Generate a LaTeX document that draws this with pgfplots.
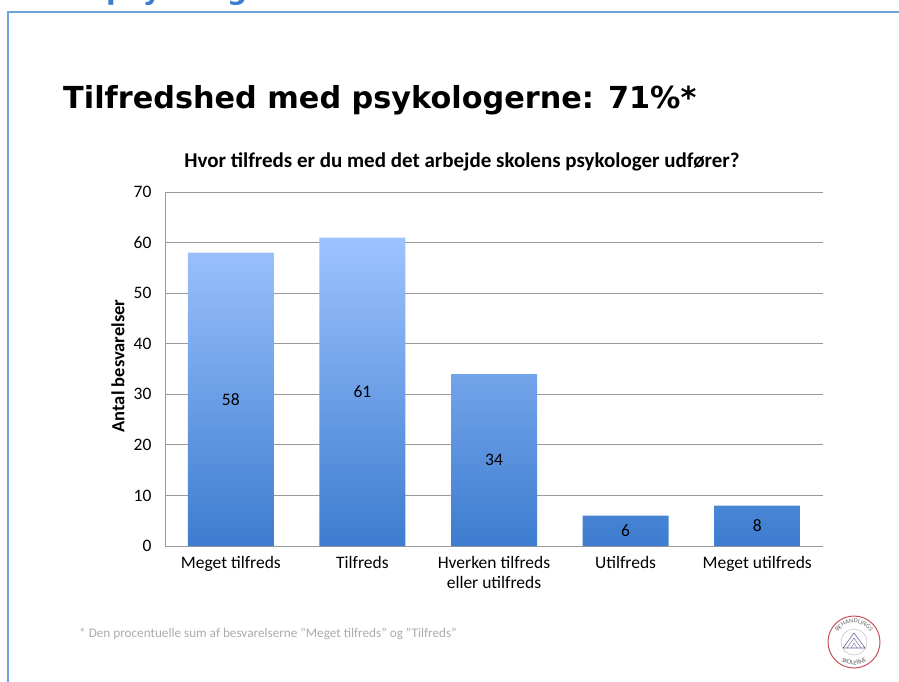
\documentclass[border=0pt]{standalone}
\usepackage{pgfplots}
\pgfplotsset{compat=1.18}
\usepackage{fontspec}
\setmainfont{Carlito}
\newfontfamily\verd{DejaVu Sans}
\usetikzlibrary{decorations.text}
\definecolor{frameblue}{HTML}{6FA3E0}
\definecolor{titleblue}{HTML}{3C7DD0}
\definecolor{bartop}{HTML}{9DC3FF}
\definecolor{barbot}{HTML}{3D7CCF}
\definecolor{gridgray}{HTML}{9A9A9A}
\definecolor{footgray}{HTML}{ABABAB}
\definecolor{logored}{HTML}{C9505C}
\begin{document}
\begin{tikzpicture}[x=1pt,y=1pt]
\useasboundingbox (0,0) rectangle (899,-682);
% cut-off slide heading
\node[anchor=base west, inner sep=0, text=titleblue, font=\verd\bfseries\fontsize{28}{30}\selectfont] at (106,0.8) {psykologerne};
% slide frame
\draw[frameblue, line width=2pt] (8,-690) -- (8,-12) -- (905,-12);
% slide title
\node[anchor=base west, inner sep=0, font=\verd\bfseries\fontsize{30.3}{34}\selectfont] at (63,-109) {Tilfredshed med psykologerne: 71\%*};
% chart title
\node[anchor=base, inner sep=0, font=\bfseries\fontsize{21}{24}\selectfont] at (462,-167) {Hvor tilfreds er du med det arbejde skolens psykologer udfører?};
% y label
\node[rotate=90, inner sep=0, font=\bfseries\fontsize{18.5}{22}\selectfont] at (118,-366) {Antal besvarelser};
\begin{axis}[
  at={(165pt,-546pt)}, anchor=south west,
  scale only axis, width=658pt, height=354pt,
  ybar, bar width=86pt,
  xmin=-0.5, xmax=4.5, ymin=0, ymax=70,
  ytick={0,10,...,70},
  xtick={0,1,2,3,4},
  xticklabels={Meget tilfreds, Tilfreds, {Hverken tilfreds\\eller utilfreds}, Utilfreds, Meget utilfreds},
  /pgf/number format/assume math mode=true,
  xticklabel style={align=center, font=\fontsize{17.5}{20}\selectfont, yshift=-7pt},
  yticklabel style={font=\fontsize{17.5}{20}\selectfont, xshift=-10pt},
  ymajorgrids, grid style={gridgray, line width=1pt},
  axis x line*=bottom, axis y line*=left,
  axis line style={gridgray, line width=1pt},
  major tick length=0pt,
  clip=false,
  visualization depends on={y \as \rawy},
  nodes near coords,
  every node near coord/.append style={anchor=center, font=\fontsize{17.5}{20}\selectfont, text=black, yshift={-2.52857*\rawy}},
]
\addplot[draw=none, top color=bartop, bottom color=barbot] coordinates {(0,58) (1,61) (2,34) (3,6) (4,8)};
\end{axis}
% footnote
\node[anchor=base west, inner sep=0, text=footgray, font=\fontsize{13.2}{15}\selectfont] at (79,-637) {* Den procentuelle sum af besvarelserne ”Meget tilfreds” og ”Tilfreds”};
% logo
\begin{scope}[shift={(854,-642)}]
\draw[logored, line width=1pt] (0,0) circle (26);
\draw[gray!60, line width=0.4pt] (0,0) circle (13);
\draw[gray!80!blue, line width=0.6pt] (-11,-6) -- (0,9) -- (11,-6) -- cycle;
\draw[gray!80!blue, line width=0.4pt] (-7,-6) -- (0,4) -- (7,-6);
\draw[gray!80!blue, line width=0.4pt] (-3,-6) -- (0,-1) -- (3,-6);
\path[decorate, decoration={text along path, text align=center, text={|\fontsize{6.5}{7}\selectfont\color{gray!80!black}|BEHANDLINGS}}] (-19,0) arc (180:0:19);
\path[decorate, decoration={text along path, text align=center, text={|\fontsize{6.5}{7}\selectfont\color{gray!80!black}|SKOLERNE}}] (-23,0) arc (180:360:23);
\end{scope}
\end{tikzpicture}
\end{document}
